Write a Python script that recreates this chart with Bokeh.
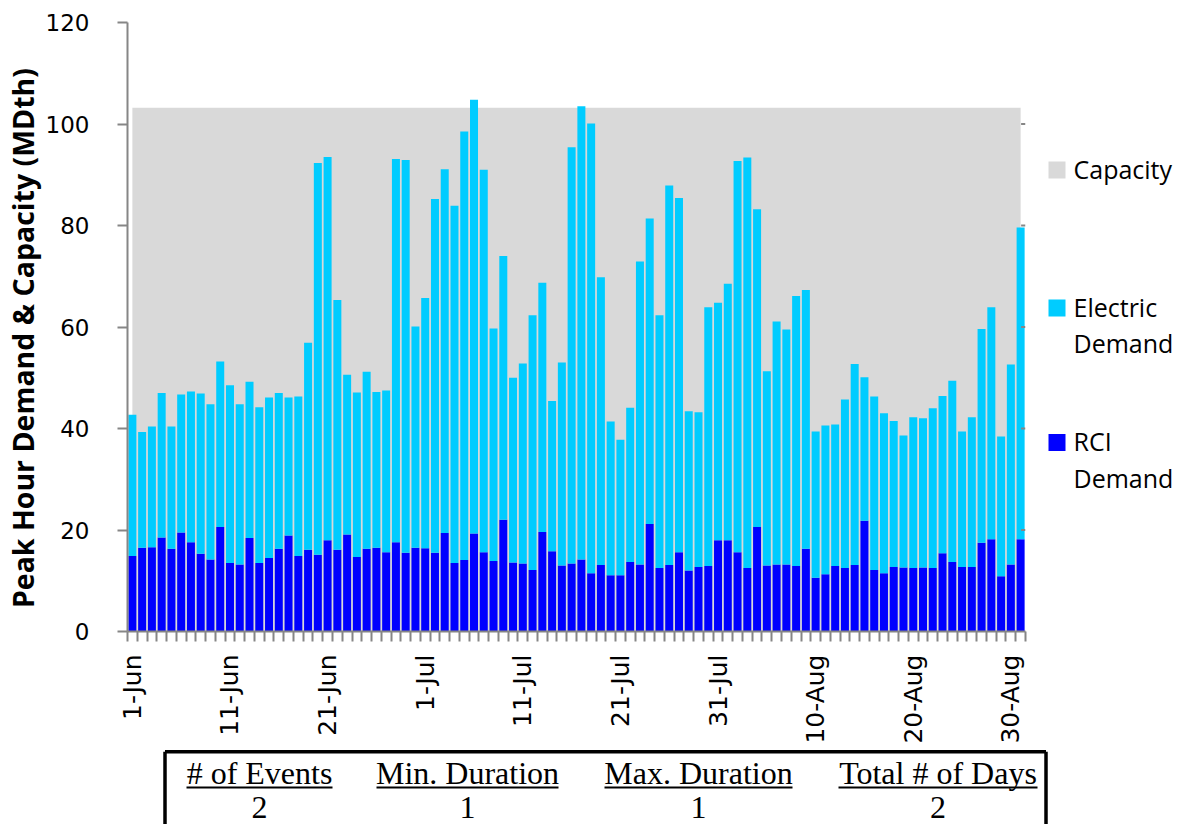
import numpy as np
from bokeh.plotting import figure
from bokeh.models import Range1d, FixedTicker, ColumnDataSource
from bokeh.layouts import column, row
from bokeh.embed import file_html
from bokeh.resources import INLINE
from bokeh.core.properties import value

# ---------------- data ----------------
days = ([f"{d}-Jun" for d in range(1, 31)] +
        [f"{d}-Jul" for d in range(1, 32)] +
        [f"{d}-Aug" for d in range(1, 32)])

tick_labels = ["1-Jun", "11-Jun", "21-Jun", "1-Jul", "11-Jul",
               "21-Jul", "31-Jul", "10-Aug", "20-Aug", "30-Aug"]

rci_demand = [14.9, 16.5, 16.6, 18.5, 16.3, 19.5, 17.6, 15.3, 14.2, 20.6,
              13.5, 13.2, 18.4, 13.5, 14.5, 16.3, 18.9, 14.9, 16.1, 15.1,
              18.0, 16.1, 19.1, 14.7, 16.3, 16.5, 15.6, 17.6, 15.5, 16.5,
              16.4, 15.5, 19.4, 13.5, 14.1, 19.3, 15.6, 13.9, 22.0, 13.6,
              13.4, 12.1, 19.6, 15.8, 13.0, 13.4, 14.2, 11.5, 13.1, 11.1,
              11.1, 13.7, 13.2, 21.2, 12.5, 13.1, 15.6, 12.0, 12.7, 12.9,
              18.0, 18.0, 15.6, 12.5, 20.6, 13.0, 13.2, 13.2, 12.9, 16.3,
              10.6, 11.3, 12.9, 12.5, 13.1, 21.8, 12.1, 11.5, 12.7, 12.6,
              12.5, 12.6, 12.5, 15.4, 13.7, 12.7, 12.7, 17.5, 18.2, 10.9,
              13.2, 18.2]

electric_demand = [27.8, 22.8, 23.8, 28.5, 24.1, 27.2, 29.7, 31.6, 30.6, 32.6,
                   35.0, 31.6, 30.8, 30.7, 31.6, 30.7, 27.2, 31.4, 40.8, 77.2,
                   75.5, 49.2, 31.5, 32.4, 34.9, 30.7, 31.9, 75.5, 77.4, 43.6,
                   49.3, 69.7, 71.7, 70.4, 84.4, 85.5, 75.4, 45.8, 52.0, 36.4,
                   39.4, 50.2, 49.1, 29.6, 40.0, 82.0, 89.3, 88.6, 56.7, 30.3,
                   26.7, 30.4, 59.7, 60.2, 49.8, 74.8, 69.8, 31.4, 30.5, 51.0,
                   46.8, 50.5, 77.1, 80.9, 62.6, 38.3, 47.9, 46.3, 53.2, 51.0,
                   28.8, 29.3, 27.9, 33.2, 39.6, 28.3, 34.2, 31.5, 28.8, 26.0,
                   29.7, 29.4, 31.5, 31.0, 35.7, 26.7, 29.5, 42.1, 45.7, 27.5,
                   39.4, 61.4]

capacity = [103.2] * len(days)

y_ticks = [0, 20, 40, 60, 80, 100, 120]
secondary_ticks = [20, 40, 60, 80, 100]

legend_labels = ["Capacity", "Electric Demand", "RCI Demand"]

table_headers = ["# of Events", "Min. Duration", "Max. Duration", "Total # of Days"]
table_values = ["2", "1", "1", "2"]

# ---------------- styles ----------------
C_CAP = "#D9D9D9"
C_ELEC = "#00CCFF"
C_RCI = "#0000FF"
AXIS = "#868686"

TOP_H = 749          # height of the chart row
B_TOP, B_BOT = 22, 118

xs = list(range(len(days)))
src = ColumnDataSource(dict(x=xs, rci=rci_demand, electric=electric_demand, cap=capacity))

p = figure(width=1040, height=TOP_H,
           x_range=Range1d(-0.5, len(days) - 0.5), y_range=Range1d(0, 120),
           output_backend="svg", toolbar_location=None,
           min_border_left=127, min_border_right=15,
           min_border_top=B_TOP, min_border_bottom=B_BOT)
p.outline_line_color = None
p.xgrid.visible = False
p.ygrid.visible = False

p.varea(x="x", y1=0, y2="cap", source=src, fill_color=C_CAP)
p.vbar_stack(["rci", "electric"], x="x", width=0.82, source=src,
             fill_color=[C_RCI, C_ELEC], line_color=None)

# small tick marks of the (unlabelled) secondary axis at the right edge
n = len(days)
p.segment(x0=[n - 0.95] * len(secondary_ticks), x1=[n - 0.5] * len(secondary_ticks),
          y0=secondary_ticks, y1=secondary_ticks, line_color=AXIS, line_width=2)

# x axis
tick_pos = [days.index(t) for t in tick_labels]
xa = p.xaxis[0]
xa.ticker = FixedTicker(ticks=tick_pos,
                        minor_ticks=[i - 0.5 for i in range(n + 1)])
xa.major_label_overrides = {int(k): lab for k, lab in zip(tick_pos, tick_labels)}
xa.major_label_orientation = np.pi / 2
xa.major_tick_line_color = None
xa.minor_tick_in = 0
xa.minor_tick_out = 10
xa.minor_tick_line_color = AXIS
xa.minor_tick_line_width = 2
xa.axis_line_color = AXIS
xa.axis_line_width = 2
xa.major_label_standoff = 13
xa.major_label_text_font = "DejaVu Sans"
xa.major_label_text_font_size = "25px"
xa.major_label_text_color = "#000000"

# y axis
ya = p.yaxis[0]
ya.ticker = FixedTicker(ticks=y_ticks, minor_ticks=[])
ya.major_tick_in = 0
ya.major_tick_out = 10
ya.major_tick_line_color = AXIS
ya.major_tick_line_width = 2
ya.axis_line_color = AXIS
ya.axis_line_width = 2
ya.major_label_standoff = 28
ya.major_label_text_font = "DejaVu Sans"
ya.major_label_text_font_size = "23px"
ya.major_label_text_color = "#000000"
ya.axis_label = "Peak Hour Demand & Capacity (MDth)\u00a0\u00a0\u00a0"
ya.axis_label_text_font = "Open Sans"
ya.axis_label_text_font_style = "bold"
ya.axis_label_text_font_size = "28.5px"
ya.axis_label_text_color = "#000000"
ya.axis_label_standoff = 1

# ---------------- legend panel (page coordinates) ----------------
lg = figure(width=143, height=TOP_H, x_range=Range1d(1040, 1183),
            y_range=Range1d(TOP_H - B_BOT, B_TOP),
            output_backend="svg", toolbar_location=None,
            min_border_left=0, min_border_right=0, min_border_top=B_TOP,
            min_border_bottom=B_BOT, x_axis_type=None, y_axis_type=None)
lg.outline_line_color = None
sq_y = [169.5, 307.5, 442]
lg.rect(x=[1056.5] * 3, y=sq_y, width=17, height=17, width_units="screen",
        height_units="screen", fill_color=[C_CAP, C_ELEC, C_RCI], line_color=None)
lines_x, lines_y, lines_t = [], [], []
for lab, yy in zip(legend_labels, sq_y):
    for j, part in enumerate(lab.split(" ")):
        lines_x.append(1073)
        lines_y.append(yy - 1.5 + 36.5 * j)
        lines_t.append(part)
lg.text(x=lines_x, y=lines_y, text=lines_t, text_font=value("Open Sans"),
        text_font_size="25px", text_baseline="middle", text_align="left",
        text_color="#000000")

# ---------------- summary table (page coordinates) ----------------
tb = figure(width=1183, height=824 - TOP_H, x_range=Range1d(0, 1183),
            y_range=Range1d(824, TOP_H),
            output_backend="svg", toolbar_location=None, min_border=0,
            x_axis_type=None, y_axis_type=None)
tb.outline_line_color = None
tb.multi_line(xs=[[164.5, 1045.5], [164.5, 164.5], [1045.5, 1045.5]],
              ys=[[751.2, 751.2], [751.2, 840], [751.2, 840]],
              line_color="#000000", line_width=3.5)
col_x = [259, 467, 698, 937.5]
col_half = [73, 91, 94, 99.5]
tb.text(x=col_x, y=[772] * 4, text=table_headers, text_font=value("Liberation Serif"),
        text_font_size="32px", text_align="center", text_baseline="middle",
        text_color="#000000")
tb.segment(x0=[c - h for c, h in zip(col_x, col_half)], y0=[787] * 4,
           x1=[c + h for c, h in zip(col_x, col_half)], y1=[787] * 4,
           line_color="#000000", line_width=2)
tb.text(x=col_x, y=[807] * 4, text=table_values, text_font=value("Liberation Serif"),
        text_font_size="32px", text_align="center", text_baseline="middle",
        text_color="#000000")

layout = column(row(p, lg), tb)
open("out.html", "w").write(file_html(layout, INLINE))
